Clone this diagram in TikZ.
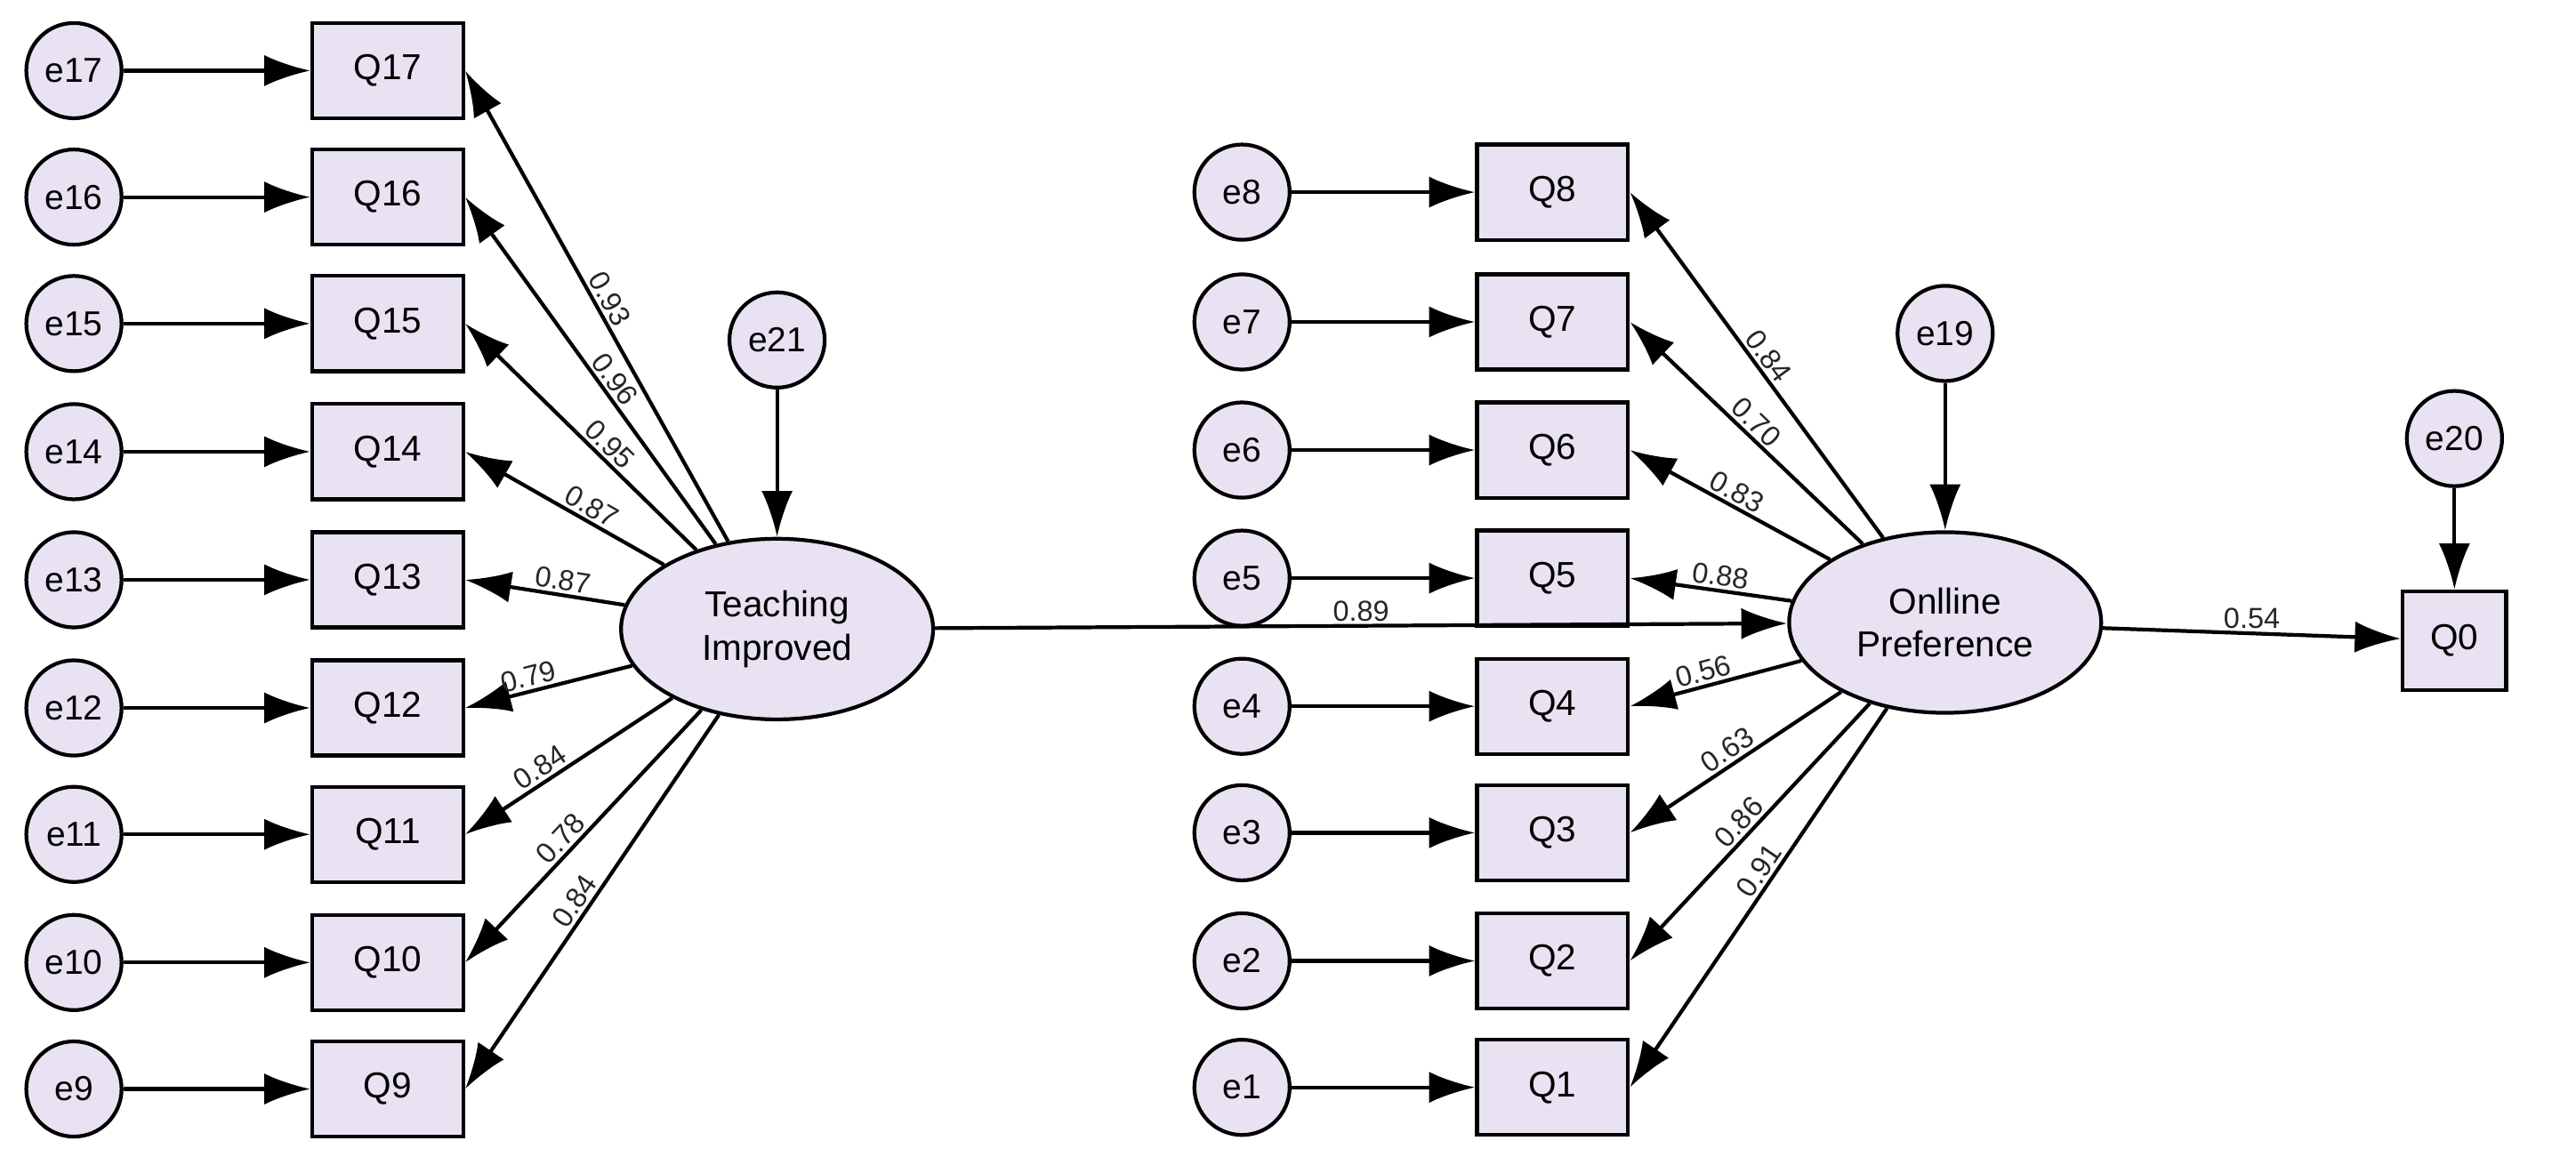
\documentclass[tikz,border=0pt]{standalone}
\usepackage{fontspec}
\setmainfont{Liberation Sans}
\usetikzlibrary{shapes.geometric,arrows.meta}
\definecolor{nf}{RGB}{232,226,242}
\begin{document}
\begin{tikzpicture}[x=0.02cm,y=-0.02cm,
 err/.style={circle,draw,line width=1.3pt,fill=nf,minimum size=1.16cm,inner sep=0pt,font=\fontsize{12}{14}\selectfont},
 obs/.style={rectangle,draw,line width=1.3pt,fill=nf,minimum width=1.84cm,minimum height=1.16cm,inner sep=0pt,font=\fontsize{12.5}{14}\selectfont},
 lat/.style={ellipse,draw,line width=1.3pt,fill=nf,minimum width=3.8cm,minimum height=2.2cm,inner sep=0pt,align=center,font=\fontsize{12.5}{15}\selectfont},
 arr/.style={line width=1.3pt,-{Latex[length=0.56cm,width=0.38cm]}},
 lab/.style={font=\fontsize{10}{12}\selectfont,inner sep=1pt,text=black!85}]
\useasboundingbox (0,0) rectangle (1568,709);
% left
\node[lat] (TI) at (473,383) {Teaching\\Improved};
\node[err] (e21) at (473,207) {e21};
\foreach \i/\y in {17/43,16/120,15/197,14/275,13/353,12/431,11/508,10/586,9/663}{
  \node[obs] (Q\i) at (236,\y) {Q\i};
  \node[err] (e\i) at (45,\y) {e\i};
  \draw[arr] (e\i) -- (Q\i);
}
\draw[arr] (e21) -- (TI);
\foreach \i/\v/\p in {17/0.93/0.5,16/0.96/0.45,15/0.95/0.42,14/0.87/0.4,13/0.87/0.4,12/0.79/0.6,11/0.84/0.6,10/0.78/0.55,9/0.84/0.52}{
  \draw[arr] (TI) -- node[lab,sloped,above,pos=\p]{\v} (Q\i.east);
}
% right
\node[lat] (OP) at (1184,379) {Onlline\\Preference};
\node[err] (e19) at (1184,203) {e19};
\foreach \i/\y in {8/117,7/196,6/274,5/352,4/430,3/507,2/585,1/662}{
  \node[obs] (Q\i) at (945,\y) {Q\i};
  \node[err] (e\i) at (756,\y) {e\i};
  \draw[arr] (e\i) -- (Q\i);
}
\draw[arr] (e19) -- (OP);
\foreach \i/\v/\p in {8/0.84/0.5,7/0.70/0.5,6/0.83/0.5,5/0.88/0.45,4/0.56/0.55,3/0.63/0.5,2/0.86/0.5,1/0.91/0.45}{
  \draw[arr] (OP) -- node[lab,sloped,above,pos=\p]{\v} (Q\i.east);
}
\node[obs,minimum width=1.26cm,minimum height=1.2cm] (Q0) at (1494,390) {Q0};
\node[err] (e20) at (1494,267) {e20};
\draw[arr] (e20) -- (Q0);
\draw[arr] (OP) -- node[lab,above]{0.54} (Q0);
\draw[arr] (TI) -- node[lab,above,pos=0.5]{0.89} (OP);
\end{tikzpicture}
\end{document}
